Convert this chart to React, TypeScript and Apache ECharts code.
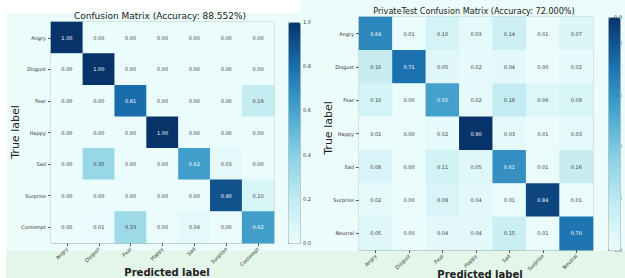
import React, { useEffect, useRef } from "react";
import * as echarts from "echarts";

const leftLabels = ["Angry", "Disgust", "Fear", "Happy", "Sad", "Surprise", "Contempt"];
const rightLabels = ["Angry", "Disgust", "Fear", "Happy", "Sad", "Surprise", "Neutral"];

const leftMatrix = [
  [1.0, 0.0, 0.0, 0.0, 0.0, 0.0, 0.0],
  [0.0, 1.0, 0.0, 0.0, 0.0, 0.0, 0.0],
  [0.0, 0.0, 0.81, 0.0, 0.0, 0.0, 0.19],
  [0.0, 0.0, 0.0, 1.0, 0.0, 0.0, 0.0],
  [0.0, 0.35, 0.0, 0.0, 0.62, 0.03, 0.0],
  [0.0, 0.0, 0.0, 0.0, 0.0, 0.9, 0.1],
  [0.0, 0.01, 0.33, 0.0, 0.04, 0.0, 0.62],
];

const rightMatrix = [
  [0.64, 0.01, 0.1, 0.03, 0.14, 0.01, 0.07],
  [0.16, 0.71, 0.05, 0.02, 0.04, 0.0, 0.02],
  [0.1, 0.0, 0.55, 0.02, 0.18, 0.06, 0.09],
  [0.01, 0.0, 0.02, 0.9, 0.03, 0.01, 0.03],
  [0.08, 0.0, 0.11, 0.05, 0.61, 0.01, 0.16],
  [0.02, 0.0, 0.08, 0.04, 0.01, 0.84, 0.01],
  [0.05, 0.0, 0.04, 0.04, 0.15, 0.01, 0.7],
];

const leftTitle = "Confusion Matrix (Accuracy: 88.552%)";
const rightTitle = "PrivateTest Confusion Matrix (Accuracy: 72.000%)";
const leftMax = 1.0;
const rightMax = 0.9;

const ramp = ["#ebfcfc", "#c2ebf2", "#8ad0e3", "#46a4cf", "#1a6fad", "#08336a"];

function toData(m: number[][], max: number) {
  const out: any[] = [];
  m.forEach((row, i) =>
    row.forEach((v, j) => {
      out.push({
        value: [j, i, v],
        label: { color: v > max / 2 ? "#ffffff" : "#3a3a3a" },
      });
    })
  );
  return out;
}

export default function App() {
  const ref = useRef<HTMLDivElement>(null);
  useEffect(() => {
    if (!ref.current) return;
    const chart = echarts.init(ref.current, null, { renderer: "svg" });
    const frame = "#a9c6bf";
    const catX = (gi: number, data: string[]) => ({
      type: "category",
      gridIndex: gi,
      data,
      axisLine: { show: true, lineStyle: { color: frame } },
      axisTick: { show: true, alignWithLabel: true, length: 3, lineStyle: { color: "#555" } },
      axisLabel: { rotate: 45, fontSize: 5, color: "#333", margin: 5, fontFamily: "DejaVu Sans" },
      splitArea: { show: false },
    });
    const catY = (gi: number, data: string[]) => ({
      type: "category",
      gridIndex: gi,
      data,
      inverse: true,
      axisLine: { show: true, lineStyle: { color: frame } },
      axisTick: { show: true, alignWithLabel: true, length: 3, lineStyle: { color: "#555" } },
      axisLabel: { fontSize: 5, color: "#333", margin: 5, fontFamily: "DejaVu Sans" },
    });
    const cbY = (gi: number, max: number) => ({
      type: "value",
      gridIndex: gi,
      min: 0,
      max,
      interval: 0.2,
      position: "right",
      axisLine: { show: false },
      splitLine: { show: false },
      axisTick: { show: true, length: 2, lineStyle: { color: "#555" } },
      axisLabel: {
        show: true,
        fontSize: 5,
        color: "#333",
        margin: 3,
        fontFamily: "DejaVu Sans",
        formatter: (v: number) => v.toFixed(1),
      },
    });
    const hiddenX = (gi: number) => ({
      type: "value",
      gridIndex: gi,
      show: false,
      min: 0,
      max: 1,
    });
    const txt = (x: number, y: number, text: string, fontSize: number, extra: any = {}, rotation = 0) => ({
      type: "text",
      x,
      y,
      rotation,
      style: {
        text,
        fontSize,
        fill: "#222",
        align: "center",
        verticalAlign: "middle",
        fontFamily: "DejaVu Sans",
        ...extra,
      },
    });
    chart.setOption({
      animation: false,
      backgroundColor: "#ffffff",
      graphic: [
        { type: "rect", z: -10, shape: { x: 6, y: 13, width: 619, height: 265 }, style: { fill: "#ecfcfb" } },
        { type: "rect", z: -10, shape: { x: 300, y: 0, width: 325, height: 13 }, style: { fill: "#ecfcfb" } },
        { type: "rect", z: -9, shape: { x: 6, y: 251, width: 619, height: 27 }, style: { fill: "#e3f6e9" } },
        txt(160, 16, leftTitle, 9),
        txt(474, 11, rightTitle, 9, { fontFamily: "DejaVu Sans Condensed" }),
        txt(15, 132, "True label", 11, {}, Math.PI / 2),
        txt(328, 128, "True label", 11, {}, Math.PI / 2),
        txt(167, 272, "Predicted label", 10, { fontWeight: "bold" }),
        txt(480, 274, "Predicted label", 10, { fontWeight: "bold" }),
      ],
      grid: [
        { left: 51, top: 22, width: 223, height: 221, show: true, borderColor: frame, borderWidth: 1, backgroundColor: "transparent" },
        { left: 359, top: 17, width: 234, height: 233, show: true, borderColor: frame, borderWidth: 1, backgroundColor: "transparent" },
        { left: 288, top: 22, width: 12, height: 221 },
        { left: 608, top: 17, width: 12, height: 233 },
      ],
      xAxis: [catX(0, leftLabels), catX(1, rightLabels), hiddenX(2), hiddenX(3)],
      yAxis: [catY(0, leftLabels), catY(1, rightLabels), cbY(2, leftMax), cbY(3, rightMax)],
      visualMap: [
        {
          type: "continuous",
          seriesIndex: 0,
          min: 0,
          max: leftMax,
          show: true,
          calculable: false,
          left: 288,
          top: 22,
          itemWidth: 12,
          itemHeight: 221,
          padding: 0,
          text: null,
          showLabel: false,
          borderColor: frame,
          borderWidth: 1,
          inRange: { color: ramp },
        },
        {
          type: "continuous",
          seriesIndex: 1,
          min: 0,
          max: rightMax,
          show: true,
          calculable: false,
          left: 608,
          top: 17,
          itemWidth: 12,
          itemHeight: 233,
          padding: 0,
          text: null,
          showLabel: false,
          borderColor: frame,
          borderWidth: 1,
          inRange: { color: ramp },
        },
      ],
      series: [
        {
          type: "heatmap",
          xAxisIndex: 0,
          yAxisIndex: 0,
          data: toData(leftMatrix, leftMax),
          label: { show: true, fontSize: 5, fontFamily: "DejaVu Sans", formatter: (p: any) => p.value[2].toFixed(2) },
          itemStyle: { borderWidth: 0 },
        },
        {
          type: "heatmap",
          xAxisIndex: 1,
          yAxisIndex: 1,
          data: toData(rightMatrix, rightMax),
          label: { show: true, fontSize: 5, fontFamily: "DejaVu Sans", formatter: (p: any) => p.value[2].toFixed(2) },
          itemStyle: { borderWidth: 0 },
        },
        { type: "line", xAxisIndex: 2, yAxisIndex: 2, data: [], silent: true },
        { type: "line", xAxisIndex: 3, yAxisIndex: 3, data: [], silent: true },
      ],
    });
    return () => chart.dispose();
  }, []);
  return (
    <div
      ref={ref}
      style={{ position: "fixed", left: 0, top: 0, width: 625, height: 278 }}
    />
  );
}
